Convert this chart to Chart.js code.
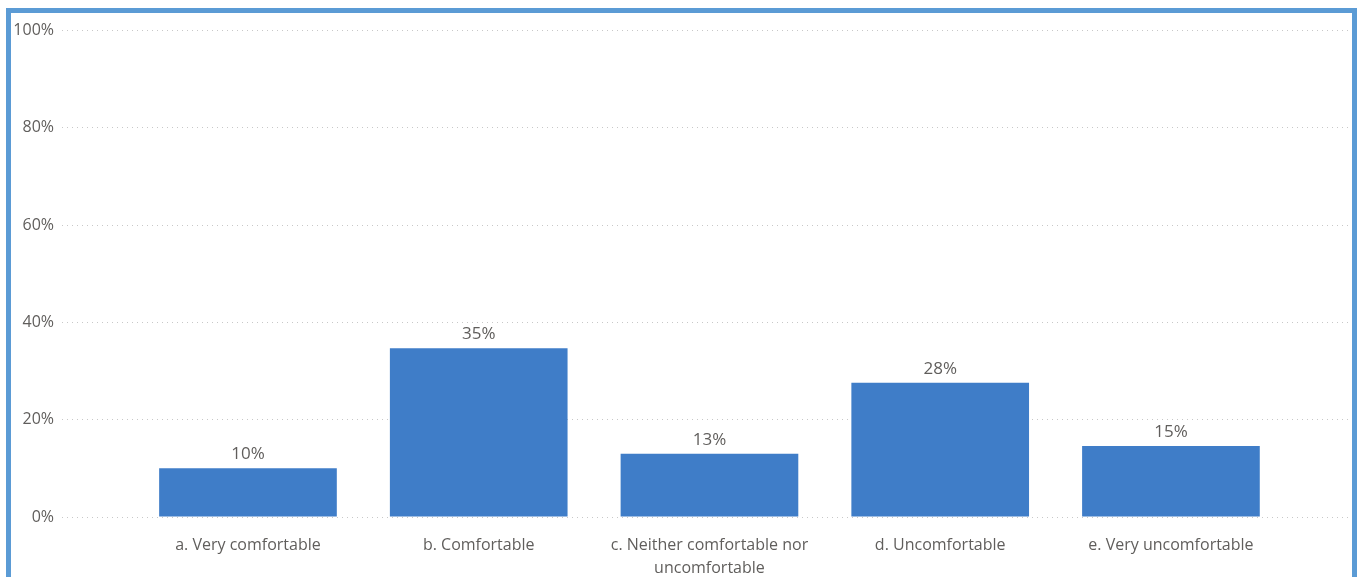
<!DOCTYPE html>
<html>
<head>
<meta charset="utf-8">
<script src="https://cdn.jsdelivr.net/npm/chart.js@4.4.1/dist/chart.umd.min.js"></script>
<style>
    html, body { margin: 0; padding: 0; background: #fff; overflow: hidden; }
    body { width: 1357px; height: 577px; position: relative; }
    .frame {
        position: absolute;
        left: 6px; top: 8px;
        width: 1341px; height: 600px;
        border: 5px solid #5B9BD5;
    }
    .frame canvas { position: absolute; left: 0; top: 0; }
</style>
</head>
<body>
<div class="frame">
    <canvas id="comfortChart" width="1341" height="564"></canvas>
</div>
<script>
// Survey answers
const categories = [
    'a. Very comfortable',
    'b. Comfortable',
    ['c. Neither comfortable nor', 'uncomfortable'],
    'd. Uncomfortable',
    'e. Very uncomfortable'
];
const shares = [10.0, 34.7, 13.0, 27.6, 14.6];
const yTicks = [0, 20, 40, 60, 80, 100];

const textColor = '#605E5C';
const fontFamily = '"Open Sans", "Noto Sans", sans-serif';

// draws the % label above each bar
const barLabels = {
    id: 'barLabels',
    afterDatasetsDraw(chart) {
        const ctx = chart.ctx;
        const meta = chart.getDatasetMeta(0);
        ctx.save();
        ctx.font = '17px ' + fontFamily;
        ctx.fillStyle = textColor;
        ctx.textAlign = 'center';
        ctx.textBaseline = 'alphabetic';
        meta.data.forEach((bar, i) => {
            ctx.fillText(Math.round(shares[i]) + '%', bar.x, bar.y - 9);
        });
        ctx.restore();
    }
};

const ctx = document.getElementById('comfortChart').getContext('2d');
new Chart(ctx, {
    type: 'bar',
    data: {
        datasets: [{
            data: shares.map((v, i) => ({ x: i, y: v })),
            backgroundColor: '#3F7DC8',
            borderWidth: 0,
            categoryPercentage: 1,
            barPercentage: 0.77
        }]
    },
    options: {
        responsive: false,
        animation: false,
        layout: { padding: { top: 16, right: 2, left: 0, bottom: 0 } },
        plugins: {
            legend: { display: false },
            tooltip: { enabled: false }
        },
        scales: {
            x: {
                type: 'linear',
                offset: false,
                min: -0.806,
                max: 4.776,
                afterBuildTicks(scale) {
                    scale.ticks = categories.map((c, i) => ({ value: i }));
                },
                afterFit(scale) { scale.height = 60; },
                grid: { display: false, drawTicks: false },
                border: { display: false },
                ticks: {
                    padding: 17,
                    maxRotation: 0,
                    autoSkip: false,
                    color: textColor,
                    font: { family: fontFamily, size: 16, lineHeight: 1.45 },
                    callback: (v) => categories[v]
                }
            },
            y: {
                min: 0,
                max: 100,
                afterBuildTicks(scale) {
                    scale.ticks = yTicks.map(v => ({ value: v }));
                },
                afterFit(scale) { scale.width = 51; },
                grid: { color: '#C8C8C8', drawTicks: false, lineWidth: 1 },
                border: { display: false, dash: [1, 4] },
                ticks: {
                    padding: 8,
                    color: textColor,
                    font: { family: fontFamily, size: 16 },
                    callback: (v) => v + '%'
                }
            }
        }
    },
    plugins: [barLabels]
});
</script>
</body>
</html>
